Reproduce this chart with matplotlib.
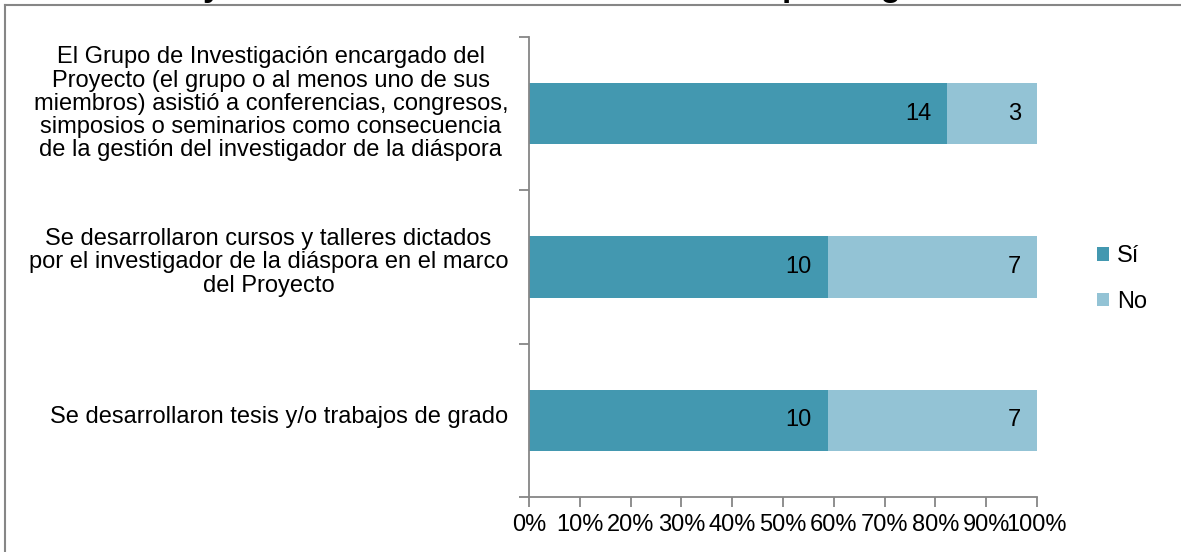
import matplotlib.pyplot as plt
from matplotlib.lines import Line2D

plt.rcParams['font.family'] = ['Liberation Sans', 'DejaVu Sans']

categories = [
    'El Grupo de Investigación encargado del\nProyecto (el grupo o al menos uno de sus\n'
    'miembros) asistió a conferencias, congresos,\nsimposios o seminarios como consecuencia\n'
    'de la gestión del investigador de la diáspora',
    'Se desarrollaron cursos y talleres dictados\npor el investigador de la diáspora en el marco\ndel Proyecto',
    'Se desarrollaron tesis y/o trabajos de grado',
]
si_counts = [14, 10, 10]
no_counts = [3, 7, 7]
series_names = ['Sí', 'No']
colors = ['#4398B0', '#93C3D5']
title = 'Formación y actividades académicas realizadas por la gestión'

W, H = 1181, 552
FS = 17
fig = plt.figure(figsize=(W / 100, H / 100), dpi=100)
ax = fig.add_axes([529 / W, 1 - 497 / H, (1037 - 529) / W, (497 - 37) / H])

totals = [s + n for s, n in zip(si_counts, no_counts)]
si_pct = [s / t * 100 for s, t in zip(si_counts, totals)]
no_pct = [n / t * 100 for n, t in zip(no_counts, totals)]
ypos = list(range(len(categories)))

b1 = ax.barh(ypos, si_pct, height=0.4, color=colors[0], label=series_names[0])
b2 = ax.barh(ypos, no_pct, left=si_pct, height=0.4, color=colors[1], label=series_names[1])
for bars, vals in ((b1, si_counts), (b2, no_counts)):
    for rect, v in zip(bars, vals):
        ax.annotate(str(v), (rect.get_x() + rect.get_width(), rect.get_y() + rect.get_height() / 2),
                    xytext=(-16, 0), textcoords='offset pixels',
                    ha='right', va='center', fontsize=FS, color='black')

ax.set_xlim(0, 100)
ax.set_ylim(len(categories) - 0.5, -0.5)
ax.set_xticks(range(0, 101, 10))
ax.set_xticklabels([f'{v}%' for v in range(0, 101, 10)], fontsize=FS)
ax.set_yticks([-0.5, 0.5, 1.5, 2.5])
ax.set_yticklabels([])
# category labels sit a little above the bar centres, as in the original
label_nudge = [0.085, 0.05, 0.04]
ax.set_yticks([p - d for p, d in zip(ypos, label_nudge)], minor=True)
ax.set_yticklabels(categories, minor=True, fontsize=FS, multialignment='center', linespacing=1.07)
ax.tick_params(axis='y', which='minor', length=0, pad=15)
ax.tick_params(axis='y', which='major', length=7, color='#868686', width=1.3)
ax.tick_params(axis='x', length=7, color='#868686', width=1.3, pad=5)
for s in ('top', 'right'):
    ax.spines[s].set_visible(False)
for s in ('left', 'bottom'):
    ax.spines[s].set_color('#868686')
    ax.spines[s].set_linewidth(1.3)

ax.legend(loc='center left', bbox_to_anchor=(1076 / W, 1 - 279 / H), bbox_transform=fig.transFigure,
          frameon=False, fontsize=FS, handlelength=0.5, handleheight=0.5, handletextpad=0.35,
          labelspacing=1.0)

# outer chart frame (top and left visible)
fig.add_artist(Line2D([5 / W, 1], [1 - 5 / H, 1 - 5 / H], color='#868686', lw=1.5))
fig.add_artist(Line2D([5 / W, 5 / W], [0, 1 - 5 / H], color='#868686', lw=1.5))

# title mostly above the visible area
fig.text(26 / W, 1 + 4 / H, title, fontsize=23.7, fontweight='bold', ha='left', va='baseline')

fig.savefig('out.png', dpi=100)
